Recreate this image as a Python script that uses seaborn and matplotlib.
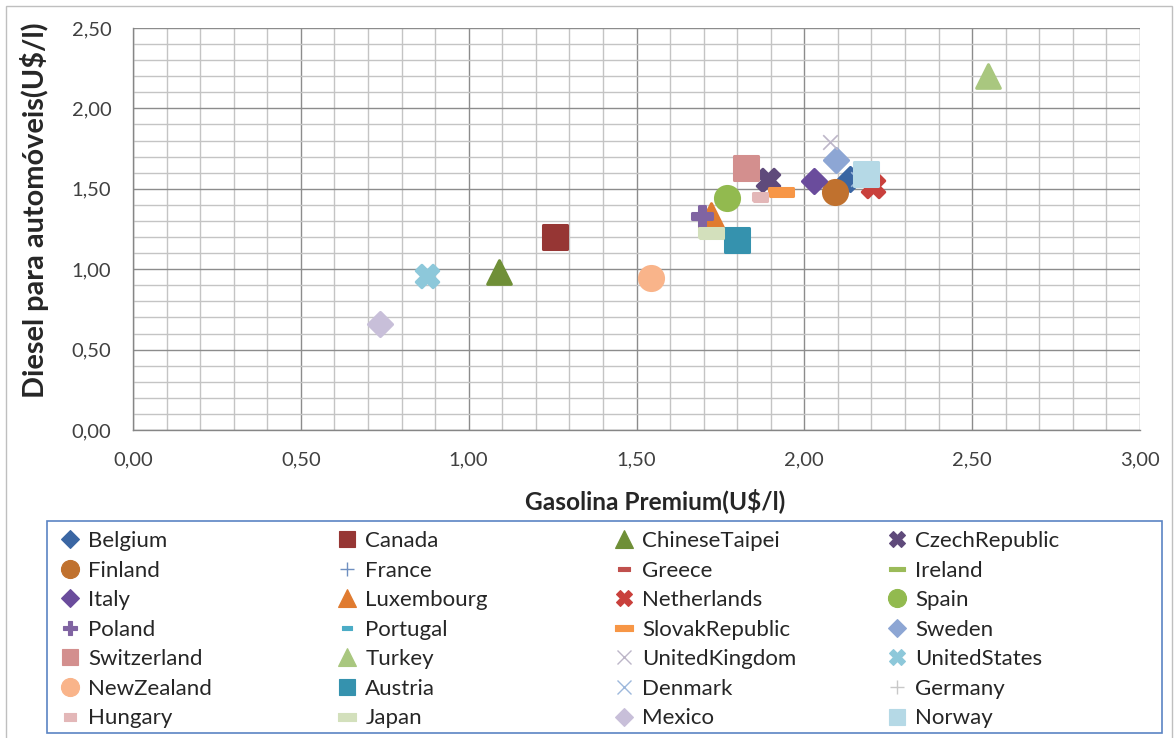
import matplotlib
matplotlib.use("Agg")
import matplotlib.pyplot as plt
from matplotlib.lines import Line2D
from matplotlib.patches import Rectangle
from matplotlib.ticker import MultipleLocator, FuncFormatter
import seaborn as sns
import pandas as pd

# Fuel prices by country (US$ per litre)
countries = [
    "Belgium", "Canada", "ChineseTaipei", "CzechRepublic",
    "Finland", "France", "Greece", "Ireland",
    "Italy", "Luxembourg", "Netherlands", "Spain",
    "Poland", "Portugal", "SlovakRepublic", "Sweden",
    "Switzerland", "Turkey", "UnitedKingdom", "UnitedStates",
    "NewZealand", "Austria", "Denmark", "Germany",
    "Hungary", "Japan", "Mexico", "Norway",
]
gasoline_premium = [
    2.135, 1.256, 1.089, 1.893,
    2.092, 2.175, 2.185, 2.180,
    2.030, 1.723, 2.205, 1.771,
    1.696, 2.190, 1.930, 2.095,
    1.827, 2.548, 2.077, 0.875,
    1.542, 1.798, 2.160, 2.195,
    1.869, 1.723, 0.735, 2.185,
]
diesel = [
    1.563, 1.203, 0.985, 1.557,
    1.480, 1.600, 1.570, 1.610,
    1.550, 1.340, 1.515, 1.440,
    1.330, 1.590, 1.480, 1.680,
    1.630, 2.202, 1.790, 0.955,
    0.943, 1.180, 1.560, 1.600,
    1.450, 1.228, 0.658, 1.594,
]

df = pd.DataFrame({"country": countries, "gasoline": gasoline_premium, "diesel": diesel})


def bar_marker(ratio):
    """Horizontal bar marker (width 1, height = ratio)."""
    h = ratio / 2
    return [(-0.5, -h), (0.5, -h), (0.5, h), (-0.5, h), (-0.5, -h)]


# Marker style per country: (marker, colour, plot size, legend size)
styles = {
    "Belgium":        ("D", "#3A66A3", 150, 9.0),
    "Canada":         ("s", "#963634", 300, 12),
    "ChineseTaipei":  ("^", "#6F8F37", 290, 13),
    "CzechRepublic":  ("X", "#5F4A7B", 260, 12),
    "Finland":        ("o", "#C0712E", 300, 13),
    "France":         ("+", "#6F8FC0", 120, 10),
    "Greece":         (bar_marker(0.3), "#C0504D", 60, 8),
    "Ireland":        (bar_marker(0.3), "#9BBB59", 90, 11),
    "Italy":          ("D", "#6A4C9C", 150, 9.0),
    "Luxembourg":     ("^", "#E07B30", 290, 13),
    "Netherlands":    ("X", "#C9403C", 260, 12),
    "Spain":          ("o", "#92BA4F", 300, 13),
    "Poland":         ("P", "#8064A2", 200, 10),
    "Portugal":       (bar_marker(0.4), "#4BACC6", 50, 7),
    "SlovakRepublic": (bar_marker(0.38), "#F79646", 280, 13),
    "Sweden":         ("D", "#8DA6D4", 150, 9.0),
    "Switzerland":    ("s", "#D38F8E", 300, 12),
    "Turkey":         ("^", "#A9C77F", 290, 13),
    "UnitedKingdom":  ("x", "#BDB6C8", 110, 10),
    "UnitedStates":   ("X", "#8DC8DA", 260, 12),
    "NewZealand":     ("o", "#F9B48A", 300, 13),
    "Austria":        ("s", "#3592AE", 300, 12),
    "Denmark":        ("x", "#9DB8DC", 110, 10),
    "Germany":        ("+", "#C8C8C8", 120, 10),
    "Hungary":        (bar_marker(0.6), "#E3B7B8", 100, 9),
    "Japan":          (bar_marker(0.45), "#D3E0BC", 300, 13),
    "Mexico":         ("D", "#C8BFD9", 150, 9.0),
    "Norway":         ("s", "#B5D9E6", 300, 12),
}

sns.set_theme(style="white")
plt.rcParams["font.family"] = ["Lato", "DejaVu Sans"]

fig = plt.figure(figsize=(11.76, 7.38), dpi=100)
ax = fig.add_axes([133 / 1176, 1 - 430 / 738, (1140 - 133) / 1176, (430 - 28) / 738])

line_art = {"+", "x"}
for i, row in df.iterrows():
    marker, color, size, _ = styles[row["country"]]
    kws = dict(marker=marker, s=size, legend=False, ax=ax, zorder=3 + i * 0.01)
    if isinstance(marker, str) and marker in line_art:
        kws.update(color=color, linewidth=1.2)
    else:
        kws.update(color=color, edgecolor=color, linewidth=2.2, joinstyle="round")
    sns.scatterplot(x=[row["gasoline"]], y=[row["diesel"]], **kws)

ax.set_xlim(0, 3.0)
ax.set_ylim(0, 2.5)
ax.xaxis.set_major_locator(MultipleLocator(0.5))
ax.yaxis.set_major_locator(MultipleLocator(0.5))
ax.xaxis.set_minor_locator(MultipleLocator(0.1))
ax.yaxis.set_minor_locator(MultipleLocator(0.1))
comma = FuncFormatter(lambda v, _: f"{v:.2f}".replace(".", ","))
ax.xaxis.set_major_formatter(comma)
ax.yaxis.set_major_formatter(comma)

ax.grid(which="major", color="#8C8C8C", linewidth=1.0, zorder=0)
ax.grid(which="minor", color="#C4C4C4", linewidth=1.0, zorder=0)
ax.set_axisbelow(True)
for side in ("top", "right"):
    ax.spines[side].set_visible(False)
for side in ("left", "bottom"):
    ax.spines[side].set_color("#868686")
    ax.spines[side].set_linewidth(1.0)
ax.tick_params(which="major", direction="out", length=5.5, width=1, color="#868686",
               labelsize=14.5, labelcolor="#404040")
ax.tick_params(which="minor", length=0)
ax.tick_params(axis="x", pad=10)
ax.tick_params(axis="y", pad=10)

ax.set_xlabel("Gasolina Premium(U$/l)", fontsize=17, fontweight="bold", color="#262626")
ax.set_ylabel("Diesel para automóveis(U$/l)", fontsize=17, fontweight="bold", color="#262626")
ax.xaxis.label.set_va("center")
ax.yaxis.label.set_va("center")
ax.xaxis.set_label_coords(0.518, -(501 - 430) / 402)
ax.yaxis.set_label_coords(-(133 - 35) / 1007, (430 - 210) / 402)

# Fit the axis titles to their intended lengths (x: 260 px wide, y: 376 px tall)
fig.canvas.draw()
renderer = fig.canvas.get_renderer()
xl_w = ax.xaxis.label.get_window_extent(renderer).width
yl_h = ax.yaxis.label.get_window_extent(renderer).height
ax.xaxis.label.set_fontsize(17 * 260 / xl_w)
ax.yaxis.label.set_fontsize(17 * 376 / yl_h)

# Legend: 4 columns x 7 rows, filled row by row
ncols, nrows = 4, 7
col_x = [59 / 1176, 336 / 1176, 613 / 1176, 886 / 1176]
for c in range(ncols):
    handles, labels = [], []
    for r in range(nrows):
        name = countries[r * ncols + c]
        marker, color, _, lsize = styles[name]
        if isinstance(marker, str) and marker in line_art:
            h = Line2D([], [], linestyle="none", marker=marker, color=color,
                       markersize=lsize, markeredgewidth=1.0)
        else:
            h = Line2D([], [], linestyle="none", marker=marker, color=color,
                       markerfacecolor=color, markeredgecolor=color,
                       markersize=lsize, markeredgewidth=0.8)
        handles.append(h)
        labels.append(name)
    fig.legend(handles, labels, loc="upper left", bbox_to_anchor=(col_x[c], 1 - 531 / 738),
               frameon=False, fontsize=16, labelspacing=0.43, handlelength=1.0,
               handletextpad=0.32, borderaxespad=0, borderpad=0, labelcolor="#262626")

fig.add_artist(Rectangle((47 / 1176, 1 - 733 / 738), (1162 - 47) / 1176, (733 - 521) / 738,
                         transform=fig.transFigure, fill=False, edgecolor="#5B84C4", linewidth=1.2))
fig.add_artist(Rectangle((6 / 1176, -0.01), (1172 - 6) / 1176, 1 - 6 / 738 + 0.01,
                         transform=fig.transFigure, fill=False, edgecolor="#BFBFBF", linewidth=1.0))

fig.savefig("out.png", dpi=100)
